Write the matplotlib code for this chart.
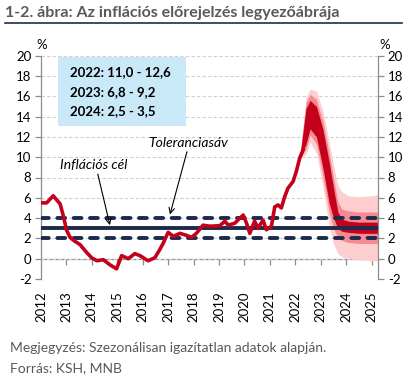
import matplotlib
matplotlib.use('Agg')
import matplotlib.pyplot as plt
from matplotlib.lines import Line2D
import numpy as np

plt.rcParams['font.family'] = ['Lato', 'DejaVu Sans']

act_t = [2012.00, 2012.22, 2012.48, 2012.75, 2012.88, 2013.00, 2013.14, 2013.34, 2013.53, 2013.80,
         2014.00, 2014.20, 2014.45, 2014.71, 2014.97, 2015.17, 2015.43, 2015.69, 2015.89, 2016.21,
         2016.48, 2016.67, 2016.80, 2017.00, 2017.20, 2017.46, 2017.72, 2017.92, 2018.11, 2018.37,
         2018.64, 2019.03, 2019.23, 2019.36, 2019.62, 2019.82, 2019.95, 2020.08, 2020.21, 2020.40,
         2020.53, 2020.73, 2020.86, 2021.06, 2021.19, 2021.32, 2021.45, 2021.58, 2021.71, 2021.91,
         2022.04, 2022.17, 2022.30]
act_v = [5.5, 5.5, 6.2, 5.4, 4.2, 2.85, 2.1, 1.7, 1.4, 0.6,
         0.07, -0.2, -0.1, -0.6, -1.0, 0.3, 0.0, 0.5, 0.3, -0.2,
         0.1, 0.9, 1.5, 2.6, 2.2, 2.5, 2.3, 2.1, 2.5, 3.3,
         3.2, 3.25, 3.7, 3.3, 3.5, 4.0, 4.3, 3.5, 2.5, 3.7,
         3.0, 3.8, 2.85, 3.2, 5.1, 5.3, 5.0, 6.1, 6.95, 7.6,
         8.6, 9.9, 10.7]

# fan chart bands
fan_t    = [2022.17, 2022.42, 2022.58, 2022.83, 2023.08, 2023.33, 2023.50, 2023.67, 2023.83, 2024.08, 2024.50, 2025.00, 2025.25]
dark_lo  = [9.9, 11.3, 12.8, 12.0, 9.0, 5.5, 4.0, 3.0, 2.7, 2.6, 2.5, 2.5, 2.5]
dark_hi  = [9.9, 14.8, 15.6, 15.0, 12.8, 9.5, 7.0, 4.6, 3.9, 3.7, 3.6, 3.6, 3.6]
mid_lo   = [9.9, 10.8, 12.2, 11.3, 8.2, 4.6, 3.0, 2.1, 1.8, 1.6, 1.5, 1.5, 1.5]
mid_hi   = [9.9, 15.4, 16.2, 15.7, 13.6, 10.4, 8.0, 5.6, 4.9, 4.7, 4.6, 4.6, 4.6]
light_lo = [9.9, 10.3, 11.5, 10.4, 7.2, 3.2, 1.5, 0.5, 0.2, 0.0, -0.1, -0.2, -0.2]
light_hi = [9.9, 15.9, 16.7, 16.5, 14.6, 11.5, 9.2, 7.2, 6.6, 6.2, 6.1, 6.2, 6.3]

target = 3
tol_band = [2, 4]
years = list(range(2012, 2026))
yticks = list(range(-2, 21, 2))
box_lines = ['2022: 11,0 - 12,6', '2023: 6,8 - 9,2', '2024: 2,5 - 3,5']

red = '#c4001a'
navy = '#1c2a4e'
axis_gray = '#8c8c8c'
txt_gray = '#595959'

fig = plt.figure(figsize=(4.15, 3.78), dpi=100)
ax = fig.add_axes([41/415, 1-279/378, 337/415, 223.3/378])

ax.fill_between(fan_t, light_lo, light_hi, color='#fdcdd0', lw=0, zorder=2)
ax.fill_between(fan_t, mid_lo, mid_hi, color='#f48a92', lw=0, zorder=2)
ax.fill_between(fan_t, dark_lo, dark_hi, color=red, lw=0, zorder=2)

ax.axhline(target, color=navy, lw=2.8, zorder=3)
for b in tol_band:
    ax.axhline(b, color=navy, lw=2.8, zorder=3, dashes=(2.0, 2.2), dash_capstyle='round')

ax.plot(act_t, act_v, color=red, lw=2.6, zorder=4, solid_joinstyle='round')

ax.set_xlim(2012, 2025.25)
ax.set_ylim(-2, 20)
ax.set_yticks(yticks)
ax.set_yticklabels([str(v) for v in yticks])
ax.grid(axis='y', color='#d0d0d0', lw=0.8, dashes=(3, 2))
ax.set_axisbelow(True)

for s in ['top', 'bottom']:
    ax.spines[s].set_visible(False)
for s in ['left', 'right']:
    ax.spines[s].set_color(axis_gray)
    ax.spines[s].set_linewidth(0.9)
ax.tick_params(axis='y', which='both', left=True, right=True, labelleft=True, labelright=True,
               direction='out', length=4, width=0.9, color=axis_gray, labelsize=9.5, pad=3)

ax.set_xticks(years)
ax.set_xticklabels([str(y) for y in years], rotation=90, fontsize=9.5)
ax.tick_params(axis='x', length=0, pad=9)

# horizontal axis crossing at 0
sec = ax.secondary_xaxis(2/22)
sec.set_xticks(years[1:])
sec.set_xticklabels([])
sec.spines['bottom'].set_color(axis_gray)
sec.spines['bottom'].set_linewidth(0.9)
sec.tick_params(direction='out', length=4, width=0.9, color=axis_gray)

# forecast ranges box
box = plt.Rectangle((0.05, 0.685), 0.38, 0.309, transform=ax.transAxes,
                    facecolor='#c9e9f9', edgecolor='none', zorder=5)
ax.add_patch(box)
for i, line in enumerate(box_lines):
    ax.text(0.086, 0.925 - i*0.086, line, transform=ax.transAxes, fontsize=9.5,
            fontweight='bold', color='black', va='center', ha='left', zorder=6)

ax.annotate('Inflációs cél', xy=(2014.71, 3.3), xytext=(2012.75, 9.2),
            fontsize=10, style='italic', color='black', va='center', ha='left',
            arrowprops=dict(arrowstyle='->', color='black', lw=0.8,
                            shrinkA=0, shrinkB=0, relpos=(0.55, 0)))
ax.annotate('Toleranciasáv', xy=(2017.07, 4.35), xytext=(2016.2, 11.4),
            fontsize=10, style='italic', color='black', va='center', ha='left',
            arrowprops=dict(arrowstyle='->', color='black', lw=0.8,
                            shrinkA=0, shrinkB=0, relpos=(0.5, 0)))

fig.text(42/415, 1-45/378, '%', fontsize=9.5, ha='center', va='center')
fig.text(385/415, 1-45/378, '%', fontsize=9.5, ha='center', va='center')

fig.text(5/415, 1-13/378, '1-2. ábra: Az inflációs előrejelzés legyezőábrája',
         fontsize=11.5, fontweight='bold', color=txt_gray, ha='left', va='center')
fig.add_artist(Line2D([5/415, 402/415], [1-23/378, 1-23/378], color='#1f2d4a', lw=1.2))

fig.text(10/415, 1-348/378, 'Megjegyzés: Szezonálisan igazítatlan adatok alapján.',
         fontsize=10, color=txt_gray, ha='left', va='center')
fig.text(10/415, 1-368/378, 'Forrás: KSH, MNB',
         fontsize=10, color=txt_gray, ha='left', va='center')

fig.savefig('out.png', dpi=100)
